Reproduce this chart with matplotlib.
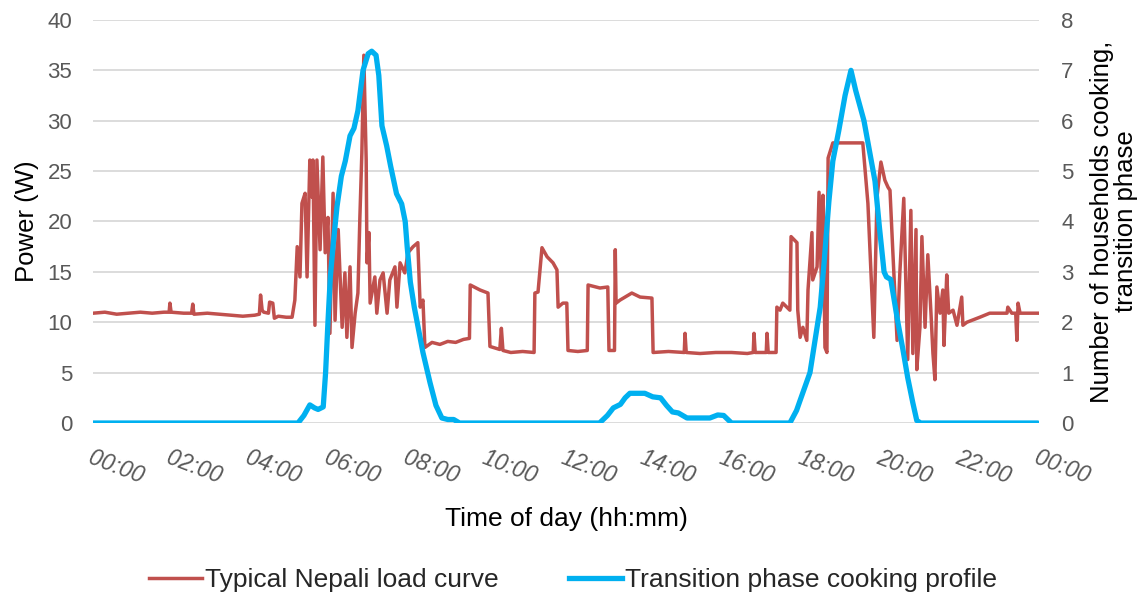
import matplotlib
matplotlib.use("Agg")
import matplotlib.pyplot as plt
from matplotlib.lines import Line2D

plt.rcParams['font.family'] = ['Liberation Sans', 'DejaVu Sans']

# Typical Nepali household load curve: (hour of day, power in W)
load_hours = [
    0.00, 0.30, 0.60, 0.90, 1.20, 1.50, 1.80, 1.93, 1.95, 1.98, 2.30, 2.50, 2.53, 2.56,
    2.90, 3.20, 3.50, 3.80, 4.10, 4.22, 4.25, 4.29, 4.33, 4.45, 4.48, 4.56, 4.60, 4.70,
    4.90, 5.05,
    5.12, 5.18, 5.25, 5.30, 5.38, 5.43, 5.50, 5.56, 5.58, 5.63, 5.68, 5.76, 5.83, 5.89,
    5.96, 6.01, 6.09, 6.14, 6.22, 6.32, 6.39, 6.44, 6.52, 6.57, 6.65, 6.72, 6.77, 6.82,
    6.87, 6.93, 6.95, 7.00, 7.03, 7.15, 7.20, 7.28, 7.36, 7.46, 7.53, 7.66, 7.71, 7.79,
    7.91, 7.99, 8.12, 8.24, 8.30, 8.37, 8.42,
    8.60, 8.80, 9.00, 9.20, 9.40, 9.55, 9.57, 9.82, 10.02, 10.07, 10.32, 10.36, 10.40,
    10.60, 10.90, 11.19, 11.21, 11.29, 11.39, 11.52, 11.67, 11.77, 11.80, 11.92, 12.02,
    12.05, 12.30, 12.54, 12.56, 12.86, 13.06, 13.09, 13.19, 13.23, 13.25, 13.27, 13.37,
    13.50, 13.67, 13.88, 14.18, 14.21,
    14.60, 15.00, 15.02, 15.05, 15.40, 15.80, 16.20, 16.60, 16.75, 16.77, 16.80, 17.08,
    17.10, 17.13, 17.33,
    17.35, 17.43, 17.50, 17.68, 17.71, 17.86, 17.88, 17.94, 18.01, 18.11, 18.14, 18.24,
    18.26, 18.37, 18.42, 18.49, 18.52, 18.57, 18.62, 18.65, 18.77, 19.53, 19.66, 19.81,
    19.89, 19.99, 20.09, 20.17, 20.22, 20.29, 20.40, 20.47, 20.57, 20.67, 20.75, 20.80,
    20.88, 20.90, 20.98, 21.03, 21.11, 21.18, 21.26, 21.31, 21.36, 21.41, 21.49, 21.56,
    21.59, 21.66, 21.71, 21.82, 21.92, 22.04, 22.07, 22.17, 22.50, 22.75, 23.19, 23.21,
    23.31, 23.41, 23.44, 23.47, 23.52, 23.75, 23.97,
]
load_watts = [
    10.9, 11.0, 10.8, 10.9, 11.0, 10.9, 11.0, 11.0, 11.9, 11.0, 10.9, 10.9, 11.8, 10.8,
    10.9, 10.8, 10.7, 10.6, 10.7, 10.8, 12.7, 11.2, 11.0, 10.9, 12.0, 11.9, 10.4, 10.6,
    10.5, 10.5,
    12.2, 17.5, 14.5, 21.8, 22.8, 14.5, 26.1, 22.4, 26.1, 9.7, 26.1, 17.2, 26.4, 16.9,
    20.4, 8.9, 22.8, 10.2, 19.2, 9.5, 14.9, 8.5, 15.5, 7.5, 10.9, 12.9, 20.4, 26.8,
    36.5, 26.1, 15.9, 18.9, 11.9, 14.5, 10.9, 14.2, 14.9, 10.9, 14.2, 15.5, 11.5, 15.9,
    14.9, 16.9, 17.5, 17.9, 11.5, 12.2, 7.5,
    8.0, 7.8, 8.1, 8.0, 8.3, 8.4, 13.7, 13.2, 12.9, 7.6, 7.3, 9.4, 7.2,
    7.0, 7.1, 7.0, 12.9, 13.0, 17.4, 16.5, 15.9, 15.2, 11.5, 11.9, 11.9,
    7.2, 7.1, 7.2, 13.7, 13.4, 13.5, 7.2, 7.2, 7.2, 17.2, 11.9, 12.2,
    12.5, 12.9, 12.5, 12.4, 7.0,
    7.1, 7.0, 8.9, 7.0, 6.9, 7.0, 7.0, 6.9, 7.0, 8.9, 7.0, 7.0,
    8.9, 7.0, 7.0,
    11.5, 11.2, 11.9, 11.2, 18.5, 17.9, 11.2, 8.5, 9.5, 8.2, 13.2, 18.9,
    14.2, 15.5, 22.9, 12.5, 22.6, 7.5, 7.0, 26.3, 27.8, 27.8, 21.8, 8.5,
    22.4, 25.9, 24.1, 23.4, 23.1, 17.2, 8.2, 14.9, 22.3, 6.3, 21.1, 6.9,
    19.2, 5.3, 9.5, 18.5, 9.5, 16.7, 10.9, 6.9, 4.3, 13.5, 10.9, 13.2,
    7.7, 14.7, 10.9, 11.2, 9.7, 12.5, 9.7, 10.0, 10.5, 10.9, 10.9, 11.5,
    10.9, 10.9, 8.2, 11.9, 10.9, 10.9, 10.9,
]

# Transition phase cooking profile: (hour of day, households cooking)
cook_hours = [
    0.00, 5.20, 5.35, 5.50, 5.62, 5.71, 5.84, 5.90, 5.96, 6.02, 6.10, 6.19, 6.30, 6.40,
    6.52, 6.62, 6.72, 6.85, 6.98, 7.07, 7.18, 7.25, 7.33, 7.45, 7.55, 7.70, 7.83, 7.92,
    7.97, 8.05, 8.15, 8.37, 8.55, 8.70, 8.85, 9.00, 9.15, 9.30,
    12.85, 13.05, 13.20, 13.38, 13.50, 13.62, 14.00, 14.20, 14.40, 14.55, 14.70, 14.85,
    15.07, 15.65, 15.85, 16.00, 16.20,
    17.68, 17.85, 17.94, 18.19, 18.45, 18.55, 18.67, 18.77, 18.92, 19.08, 19.23, 19.35,
    19.56, 19.70, 19.84, 19.95, 20.07, 20.13, 20.24, 20.42, 20.55, 20.67, 20.80, 20.90,
    21.00, 23.97,
]
cook_households = [
    0.0, 0.0, 0.15, 0.36, 0.30, 0.27, 0.32, 1.0, 2.0, 2.9, 3.6, 4.3, 4.9, 5.2,
    5.7, 5.85, 6.2, 7.0, 7.33, 7.38, 7.3, 6.9, 5.9, 5.5, 5.1, 4.55, 4.35, 4.0,
    3.5, 2.8, 2.3, 1.4, 0.8, 0.35, 0.1, 0.07, 0.07, 0.0,
    0.0, 0.15, 0.30, 0.37, 0.50, 0.59, 0.59, 0.52, 0.50, 0.35, 0.22, 0.20,
    0.10, 0.10, 0.16, 0.15, 0.0,
    0.0, 0.25, 0.45, 1.0, 2.3, 3.2, 4.4, 5.2, 5.8, 6.5, 7.0, 6.6,
    6.0, 5.4, 4.8, 3.9, 3.0, 2.9, 2.85, 2.0, 1.45, 0.9, 0.4, 0.05,
    0.0, 0.0,
]

tick_hours = list(range(0, 25, 2))
tick_labels = ["00:00", "02:00", "04:00", "06:00", "08:00", "10:00", "12:00",
               "14:00", "16:00", "18:00", "20:00", "22:00", "00:00"]

RED = "#C0504D"
BLUE = "#00B0F0"
GREY = "#595959"
GRID = "#D9D9D9"

fig = plt.figure(figsize=(11.46, 5.98), dpi=100)
ax = fig.add_axes([0.0812, 0.2926, 0.8254, 0.674])
ax2 = ax.twinx()

ax.plot(load_hours, load_watts, color=RED, lw=2.5, solid_joinstyle="round")
ax2.plot(cook_hours, cook_households, color=BLUE, lw=3.8, solid_capstyle="round",
         solid_joinstyle="round")

ax.set_xlim(0, 24)
ax.set_ylim(0, 40)
ax2.set_ylim(0, 8)
ax.set_yticks(range(0, 41, 5))
ax2.set_yticks(range(0, 9))

ax.grid(axis="y", color=GRID, lw=1.3)
ax.set_axisbelow(True)
for a in (ax, ax2):
    for s in a.spines.values():
        s.set_visible(False)

ax.set_xticks(tick_hours)
ax.set_xticklabels(tick_labels, rotation=-21, ha="left", va="top",
                   rotation_mode="anchor", style="italic", color=GREY, fontsize=16.5)
ax.tick_params(axis="x", length=0, pad=17)
ax.tick_params(axis="y", length=0, pad=15, labelcolor=GREY, labelsize=16)
ax2.tick_params(axis="y", length=0, pad=16, labelcolor=GREY, labelsize=16)

ax.set_ylabel("Power (W)", fontsize=18.5, color="black", labelpad=6)
ax.set_xlabel("Time of day (hh:mm)", fontsize=19, color="black", labelpad=13)
ax2.set_ylabel("Number of households cooking,\ntransition phase", fontsize=18.5,
               color="black", labelpad=12, linespacing=1.0)

handles = [Line2D([], [], color=RED, lw=2.5), Line2D([], [], color=BLUE, lw=3.8)]
fig.legend(handles, ["Typical Nepali load curve", "Transition phase cooking profile"],
           loc="center", bbox_to_anchor=(0.5, 0.03), ncol=2, frameon=False,
           fontsize=19, handlelength=2.0, handletextpad=0.12, columnspacing=2.65,
           labelcolor="#262626")

fig.savefig("out.png", dpi=100)
